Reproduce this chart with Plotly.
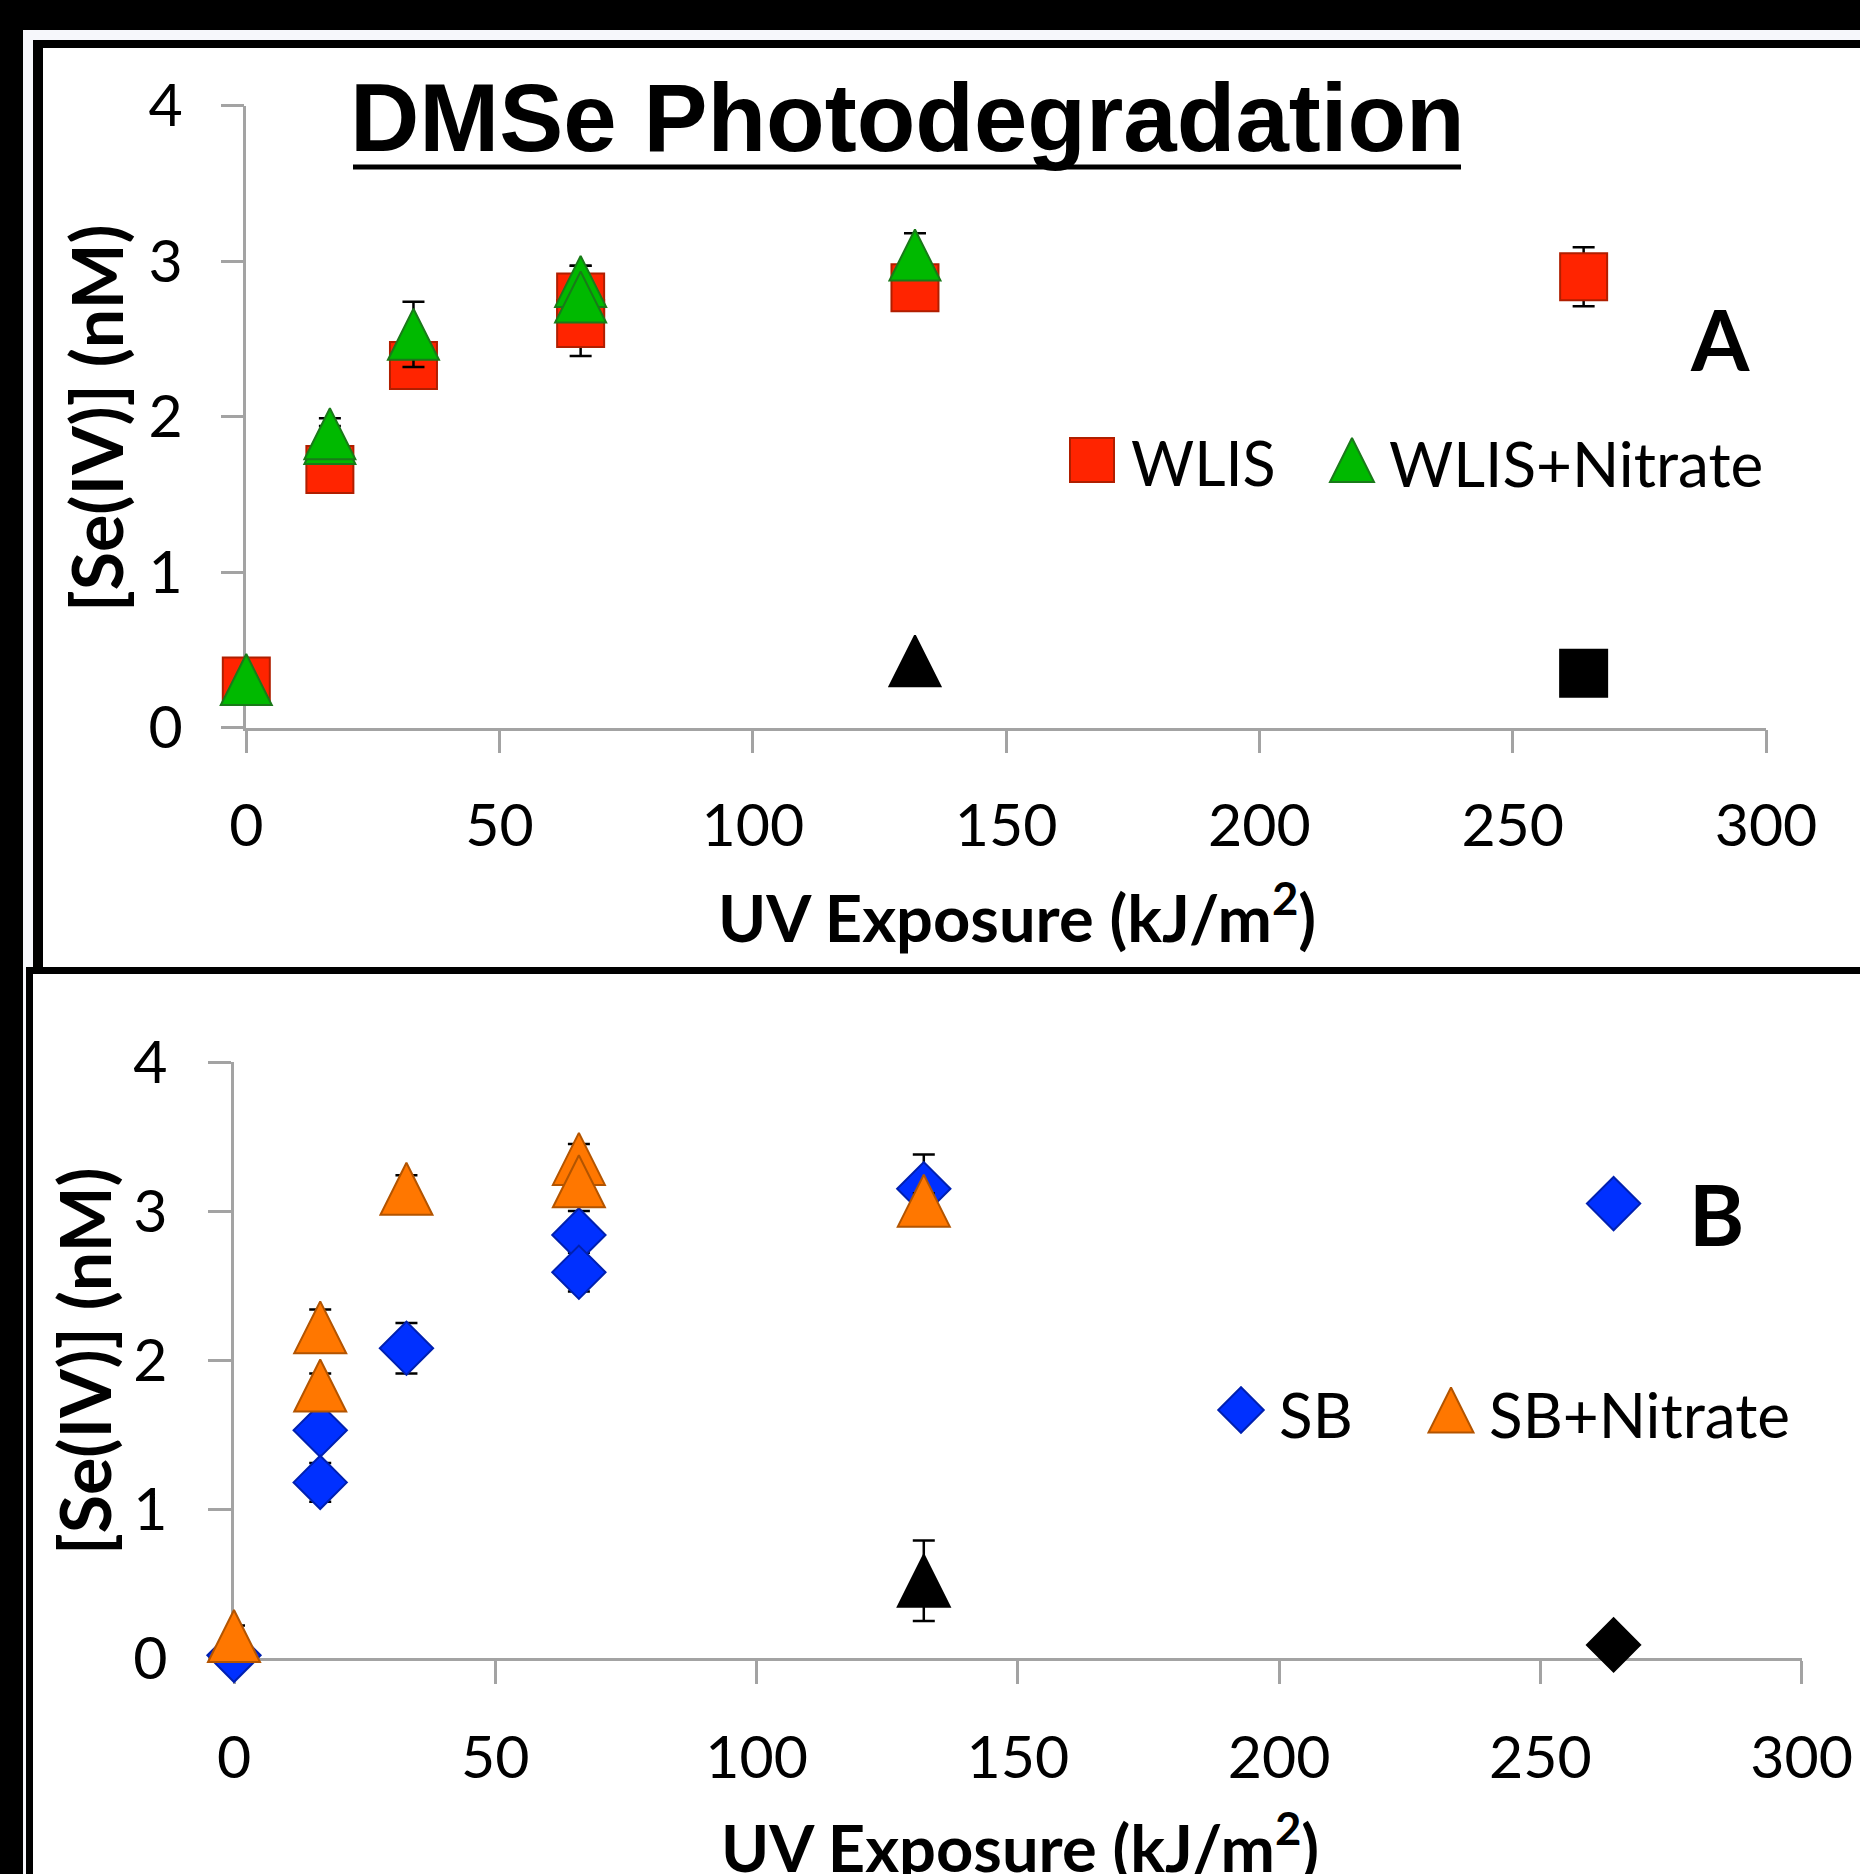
import plotly.graph_objects as go

W, H = 1860, 1874

# ---------------- data ----------------
x_ticks = [0, 50, 100, 150, 200, 250, 300]
y_ticks = [0, 1, 2, 3, 4]

# Panel A : WLIS water
wlis_x = [0, 16.5, 33, 66, 66, 132, 264]
wlis_y = [0.30, 1.66, 2.33, 2.77, 2.60, 2.83, 2.90]
wlis_err = [0, 0, 0, 0.20, 0.21, 0, 0.19]

wlisn_x = [0, 16.5, 16.5, 33, 66, 66, 132]
wlisn_y = [0.31, 1.86, 1.89, 2.53, 2.87, 2.77, 3.04]
wlisn_err = [0, 0.13, 0.05, 0.21, 0.10, 0.06, 0.14]

wlis_dark_x = [264]
wlis_dark_y = [0.35]
wlisn_dark_x = [132]
wlisn_dark_y = [0.43]

# Panel B : SB water
sb_x = [0, 16.5, 16.5, 33, 66, 66, 132, 264]
sb_y = [0.02, 1.53, 1.18, 2.08, 2.84, 2.59, 3.15, 3.05]
sb_err = [0, 0.05, 0.13, 0.17, 0.16, 0.13, 0.23, 0.05]

sbn_x = [0, 16.5, 16.5, 33, 66, 66, 132]
sbn_y = [0.15, 2.22, 1.83, 3.15, 3.35, 3.20, 3.07]
sbn_err = [0.07, 0.12, 0.08, 0.09, 0.10, 0.05, 0.05]

sb_dark_x = [264]
sb_dark_y = [0.09]
sbn_dark_x = [132]
sbn_dark_y = [0.52]
sbn_dark_err = [0.27]

# ---------------- styles ----------------
RED, RED_L = '#ff2400', '#b01e00'
GREEN, GREEN_L = '#00b900', '#197a19'
BLUE, BLUE_L = '#0030ff', '#0020b0'
ORANGE, ORANGE_L = '#ff7700', '#b35400'
AXIS = '#a3a3a3'
STRIP = '#f6f7fb'
TICKFONT = dict(family='Lato', size=59, color='black')


def px(x):
    return min(max(x / W, 0), 1)


def py(y):
    return min(max(1 - y / H, 0), 1)


def tri(color, line, size):
    # isosceles up-triangle (width == height), centred on the point
    return dict(symbol='arrow-down', angle=180, standoff=size / 2, size=size,
                color=color, line=dict(color=line, width=2))


def sq(color, line, size):
    return dict(symbol='square', size=size, color=color, line=dict(color=line, width=2))


def dia(color, line, size):
    return dict(symbol='diamond', size=size, color=color, line=dict(color=line, width=2))


def err(vals):
    return dict(type='data', array=vals, visible=True, color='black', thickness=2.5, width=11)


fig = go.Figure()

# Panel A traces
fig.add_trace(go.Scatter(x=wlis_x, y=wlis_y, mode='markers', name='WLIS', marker=sq(RED, RED_L, 47),
                         error_y=err(wlis_err), cliponaxis=False, xaxis='x', yaxis='y'))
fig.add_trace(go.Scatter(x=wlis_dark_x, y=wlis_dark_y, mode='markers', name='WLIS dark',
                         marker=sq('black', 'black', 47), cliponaxis=False, xaxis='x', yaxis='y'))
fig.add_trace(go.Scatter(x=wlisn_x, y=wlisn_y, mode='markers', name='WLIS+Nitrate', marker=tri(GREEN, GREEN_L, 51),
                         error_y=err(wlisn_err), cliponaxis=False, xaxis='x', yaxis='y'))
fig.add_trace(go.Scatter(x=wlisn_dark_x, y=wlisn_dark_y, mode='markers', name='WLIS+Nitrate dark',
                         marker=tri('black', 'black', 51), cliponaxis=False, xaxis='x', yaxis='y'))

# Panel B traces
fig.add_trace(go.Scatter(x=sb_x, y=sb_y, mode='markers', name='SB', marker=dia(BLUE, BLUE_L, 41),
                         error_y=err(sb_err), cliponaxis=False, xaxis='x2', yaxis='y2'))
fig.add_trace(go.Scatter(x=sb_dark_x, y=sb_dark_y, mode='markers', name='SB dark',
                         marker=dia('black', 'black', 41), cliponaxis=False, xaxis='x2', yaxis='y2'))
fig.add_trace(go.Scatter(x=sbn_x, y=sbn_y, mode='markers', name='SB+Nitrate', marker=tri(ORANGE, ORANGE_L, 52),
                         error_y=err(sbn_err), cliponaxis=False, xaxis='x2', yaxis='y2'))
fig.add_trace(go.Scatter(x=sbn_dark_x, y=sbn_dark_y, mode='markers', name='SB+Nitrate dark',
                         marker=tri('black', 'black', 52), error_y=err(sbn_dark_err),
                         cliponaxis=False, xaxis='x2', yaxis='y2'))

# Legend keys (drawn on a pixel-space overlay axis)
fig.add_trace(go.Scatter(x=[1092], y=[460], mode='markers', marker=sq(RED, RED_L, 44),
                         cliponaxis=False, xaxis='x3', yaxis='y3', hoverinfo='skip'))
fig.add_trace(go.Scatter(x=[1352], y=[460], mode='markers', marker=tri(GREEN, GREEN_L, 44),
                         cliponaxis=False, xaxis='x3', yaxis='y3', hoverinfo='skip'))
fig.add_trace(go.Scatter(x=[1241], y=[1410], mode='markers', marker=dia(BLUE, BLUE_L, 35),
                         cliponaxis=False, xaxis='x3', yaxis='y3', hoverinfo='skip'))
fig.add_trace(go.Scatter(x=[1451], y=[1410], mode='markers', marker=tri(ORANGE, ORANGE_L, 45),
                         cliponaxis=False, xaxis='x3', yaxis='y3', hoverinfo='skip'))

common_x = dict(range=[0, 300], tickvals=x_ticks, ticks='outside', ticklen=23, tickwidth=2.5,
                tickcolor=AXIS, showline=True, linecolor=AXIS, linewidth=2.5, showgrid=False,
                zeroline=False, tickfont=TICKFONT, fixedrange=True, layer='below traces')
common_y = dict(range=[0, 4], tickvals=y_ticks, ticks='outside', ticklen=23, tickwidth=2.5,
                tickcolor=AXIS, showline=True, linecolor=AXIS, linewidth=2.5, showgrid=False,
                zeroline=False, tickfont=TICKFONT, fixedrange=True, layer='below traces')


def rect(x0, y0, x1, y1, color):
    return dict(type='rect', xref='paper', yref='paper', x0=px(x0), x1=px(x1), y0=py(y1), y1=py(y0),
                fillcolor=color, line=dict(width=0), layer='below')


shapes = [
    rect(0, 0, W, H, STRIP),
    rect(0, 0, W, 30, 'black'),
    rect(0, 0, 23, H, 'black'),
    # panel A frame
    rect(33, 40, W, 974, 'black'),
    rect(43, 48, W, 967, 'white'),
    # panel B frame
    rect(26, 967, W, H, 'black'),
    rect(33, 974, W, H, 'white'),
    # title underline
    dict(type='line', xref='paper', yref='paper', x0=px(353), x1=px(1461), y0=py(167), y1=py(167),
         line=dict(color='black', width=5), layer='above'),
]


def ann(text, x, y, size, family='Lato', xanchor='center', angle=0):
    return dict(text=text, x=px(x), y=py(y), xref='paper', yref='paper', showarrow=False,
                xanchor=xanchor, yanchor='middle', textangle=angle,
                font=dict(family=family, size=size, color='black'))


annotations = [
    ann('<b>DMSe Photodegradation</b>', 907, 118, 96, family='Liberation Sans'),
    ann('<b>A</b>', 1720, 338, 84),
    ann('<b>B</b>', 1716, 1213, 84),
    ann('WLIS', 1129, 463, 61, xanchor='left'),
    ann('WLIS+Nitrate', 1387, 463, 62, xanchor='left'),
    ann('SB', 1277, 1414, 62, xanchor='left'),
    ann('SB+Nitrate', 1487, 1414, 62, xanchor='left'),
    ann('<b>[Se(IV)] (nM)</b>', 96, 418, 70, angle=-90),
    ann('<b>[Se(IV)] (nM)</b>', 84, 1361, 70, angle=-90),
    ann('<b>UV Exposure (kJ/m<sup>2</sup>)</b>', 1017, 913, 65),
    ann('<b>UV Exposure (kJ/m<sup>2</sup>)</b>', 1020, 1843, 65),
]

fig.update_layout(
    width=W, height=H, margin=dict(l=0, r=0, t=0, b=0, pad=0, autoexpand=False),
    paper_bgcolor='white', plot_bgcolor='rgba(0,0,0,0)', showlegend=False,
    xaxis=dict(domain=[px(246.3), px(1766)], anchor='y', ticklabelstandoff=22, **common_x),
    yaxis=dict(domain=[py(727.7), py(105.7)], anchor='x', ticklabelstandoff=26, **common_y),
    xaxis2=dict(domain=[px(234), px(1801.7)], anchor='y2', ticklabelstandoff=23, **common_x),
    yaxis2=dict(domain=[py(1658.3), py(1062)], anchor='x2', ticklabelstandoff=29, **common_y),
    xaxis3=dict(domain=[0, 1], range=[0, W], visible=False, fixedrange=True, anchor='y3'),
    yaxis3=dict(domain=[0, 1], range=[H, 0], visible=False, fixedrange=True, anchor='x3'),
    shapes=shapes, annotations=annotations,
)

fig.write_html('out.html', config={'displayModeBar': False},
               post_script="document.body.style.margin='0';document.body.style.overflow='hidden';")
